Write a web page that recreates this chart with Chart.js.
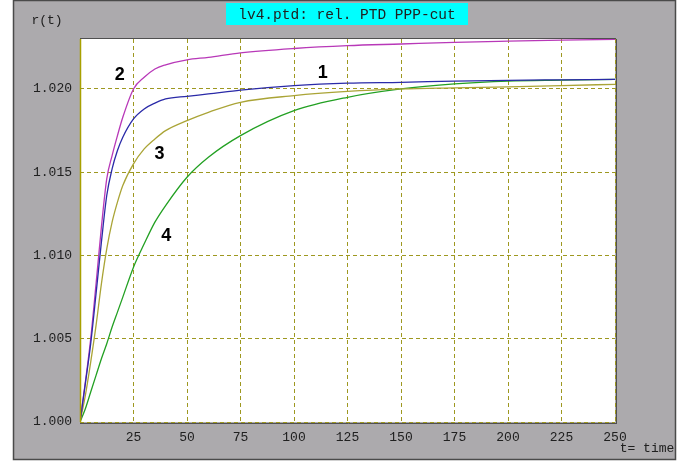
<!DOCTYPE html>
<html>
<head>
<meta charset="utf-8">
<script src="https://cdn.jsdelivr.net/npm/chart.js@4.4.0/dist/chart.umd.min.js"></script>
<style>
  html, body { margin: 0; padding: 0; background: #ffffff; }
  canvas { display: block; }
</style>
</head>
<body>
<canvas id="chart" width="688" height="461"></canvas>
<script>
const tValues = [0, 2.5, 5, 7.5, 10, 12.5, 15, 17.5, 20, 25, 30, 35, 40, 50, 60, 75, 100, 125, 150, 175, 200, 225, 250];

// curve 1 (blue)
const curve1 = [1.0000, 1.0023, 1.0047, 1.0077, 1.0108, 1.0136, 1.0152, 1.0163, 1.0171, 1.0182, 1.0188, 1.01915, 1.0194, 1.01956, 1.0197, 1.01993, 1.0202, 1.02035, 1.0204, 1.02047, 1.02052, 1.02055, 1.02058];
// curve 2 (magenta)
const curve2 = [1.0000, 1.0024, 1.0050, 1.0083, 1.0117, 1.0146, 1.0160, 1.0172, 1.0183, 1.0200, 1.0207, 1.0212, 1.02145, 1.02175, 1.0219, 1.02217, 1.02243, 1.0226, 1.0227, 1.0228, 1.02287, 1.02293, 1.02298];
// curve 3 (olive)
const curve3 = [1.0000, 1.0016, 1.0036, 1.0058, 1.0083, 1.0104, 1.0120, 1.0132, 1.0142, 1.0155, 1.0164, 1.0170, 1.0175, 1.0181, 1.0186, 1.0192, 1.0196, 1.01985, 1.0200, 1.02007, 1.02013, 1.0202, 1.02028];
// curve 4 (green)
const curve4 = [1.0000, 1.0008, 1.0018, 1.0028, 1.0038, 1.0047, 1.0057, 1.0066, 1.0075, 1.0093, 1.0107, 1.0120, 1.0130, 1.0147, 1.0159, 1.0172, 1.0187, 1.0195, 1.0200, 1.0203, 1.02047, 1.02053, 1.02058];

const xTickValues = [0, 25, 50, 75, 100, 125, 150, 175, 200, 225, 250];
const yTickValues = [1.000, 1.005, 1.010, 1.015, 1.020];

// curve numbers placed in data coordinates
const curveLabels = [
    { text: '1', t: 113.4, r: 1.02098 },
    { text: '2', t: 18.6, r: 1.02082 },
    { text: '3', t: 37.2, r: 1.01612 },
    { text: '4', t: 40.3, r: 1.01116 }
];

const titleText = 'lv4.ptd: rel. PTD PPP-cut';
const yAxisTitle = 'r(t)';
const xAxisTitle = 't= time';

const monoFont = '"Liberation Mono", "DejaVu Sans Mono", monospace';
const gridColor = '#9e9820';

function toPoints(values) {
    return tValues.map((t, i) => ({ x: t, y: values[i] }));
}

function makeDataset(label, values, color) {
    return {
        label: label,
        data: toPoints(values),
        borderColor: color,
        borderWidth: 1.3,
        pointRadius: 0,
        fill: false,
        cubicInterpolationMode: 'monotone'
    };
}

// draws the grey panel, the title box and the frame around the plot
const framePlugin = {
    id: 'frame',
    beforeDraw(chart) {
        const c = chart.ctx;
        const a = chart.chartArea;
        c.save();
        c.fillStyle = '#ffffff';
        c.fillRect(0, 0, chart.width, chart.height);
        c.fillStyle = '#acaaad';
        c.fillRect(14, 1, 661, 458);
        c.strokeStyle = '#4a4a4a';
        c.lineWidth = 1.5;
        c.strokeRect(13.5, 0.5, 662, 459);
        c.fillStyle = '#ffffff';
        c.fillRect(a.left, a.top, a.right - a.left, a.bottom - a.top);

        // title box
        c.fillStyle = '#00ffff';
        c.fillRect(226, 3, 242, 22);
        c.fillStyle = '#202020';
        c.font = '14.5px ' + monoFont;
        c.textAlign = 'center';
        c.textBaseline = 'middle';
        c.fillText(titleText, 347, 15);
        c.restore();
    },
    afterDraw(chart) {
        const c = chart.ctx;
        const a = chart.chartArea;
        const xs = chart.scales.x;
        const ys = chart.scales.y;
        c.save();
        // left axis solid
        c.strokeStyle = '#a8a000';
        c.lineWidth = 1.5;
        c.beginPath();
        c.moveTo(a.left + 0.5, a.top);
        c.lineTo(a.left + 0.5, a.bottom);
        c.stroke();
        // top border and dark shadows on right / bottom
        c.strokeStyle = '#505050';
        c.lineWidth = 1;
        c.beginPath();
        c.moveTo(a.left, a.top - 0.5);
        c.lineTo(a.right + 1, a.top - 0.5);
        c.moveTo(a.right + 1.5, a.top);
        c.lineTo(a.right + 1.5, a.bottom + 1);
        c.moveTo(a.left, a.bottom + 1.5);
        c.lineTo(a.right + 2, a.bottom + 1.5);
        c.stroke();

        // curve numbers
        c.fillStyle = '#000000';
        c.font = 'bold 18px "Liberation Sans", Arial, sans-serif';
        c.textAlign = 'center';
        c.textBaseline = 'middle';
        curveLabels.forEach(l => {
            c.fillText(l.text, xs.getPixelForValue(l.t), ys.getPixelForValue(l.r));
        });

        // axis titles
        c.fillStyle = '#202020';
        c.font = '13px ' + monoFont;
        c.fillText(yAxisTitle, 47, 21);
        c.fillText(xAxisTitle, 647, 449);
        c.restore();
    }
};

const ctx = document.getElementById('chart').getContext('2d');
const chart = new Chart(ctx, {
    type: 'line',
    data: {
        datasets: [
            makeDataset('1', curve1, '#2a2aa8'),
            makeDataset('2', curve2, '#b838b8'),
            makeDataset('3', curve3, '#aaa436'),
            makeDataset('4', curve4, '#22a022')
        ]
    },
    options: {
        responsive: false,
        animation: false,
        layout: {
            padding: { left: 0, top: 39, right: 73, bottom: 0 }
        },
        plugins: {
            legend: { display: false },
            tooltip: { enabled: false }
        },
        scales: {
            x: {
                type: 'linear',
                min: 0,
                max: 250,
                afterBuildTicks: scale => {
                    scale.ticks = xTickValues.map(v => ({ value: v }));
                },
                afterFit: scale => { scale.height = 39; },
                grid: { color: gridColor, lineWidth: 1, drawTicks: false },
                border: { display: false, dash: [4, 3] },
                ticks: {
                    padding: 8,
                    color: '#202020',
                    font: { family: monoFont, size: 13 },
                    maxRotation: 0,
                    callback: v => (v === 0 ? '' : String(v))
                }
            },
            y: {
                type: 'linear',
                min: 1.0,
                max: 1.023,
                afterBuildTicks: scale => {
                    scale.ticks = yTickValues.map(v => ({ value: v }));
                },
                afterFit: scale => { scale.width = 80; },
                grid: { color: gridColor, lineWidth: 1, drawTicks: false },
                border: { display: false, dash: [4, 3] },
                ticks: {
                    padding: 8,
                    color: '#202020',
                    font: { family: monoFont, size: 13 },
                    callback: v => v.toFixed(3)
                }
            }
        }
    },
    plugins: [framePlugin]
});
</script>
</body>
</html>
